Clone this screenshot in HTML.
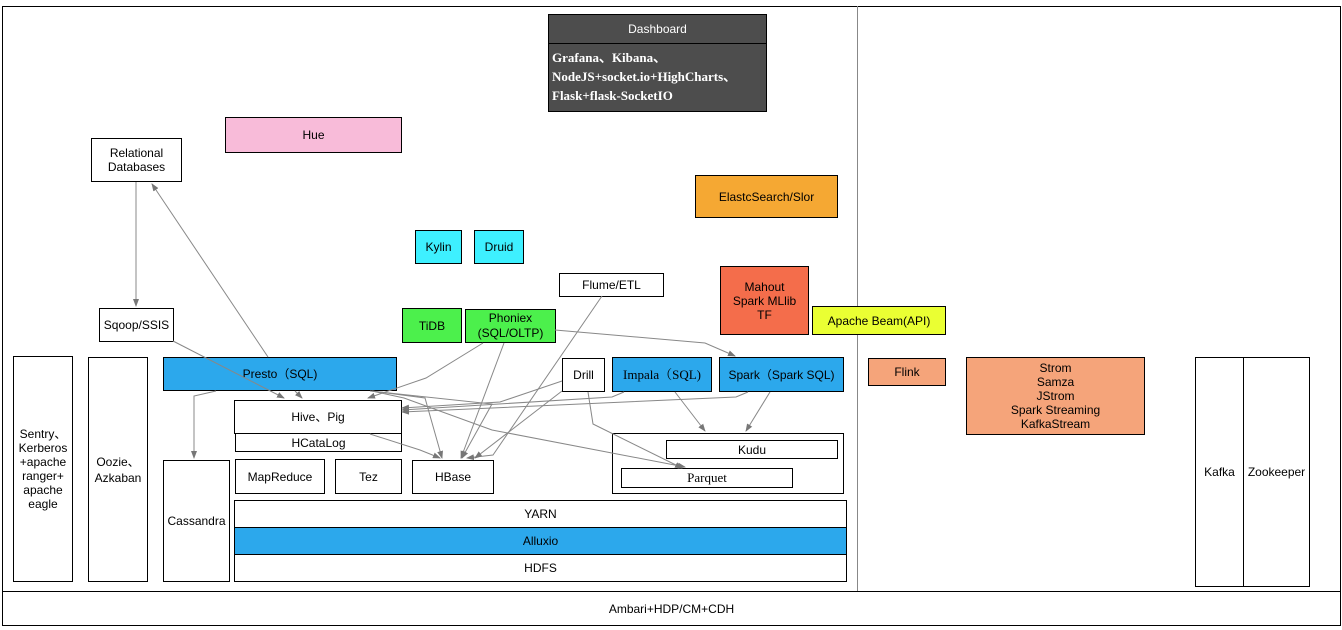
<!DOCTYPE html>
<html><head><meta charset="utf-8"><style>
body{margin:0;background:#fff;width:1342px;height:630px;overflow:hidden;position:relative;font-family:"Liberation Sans","Noto Sans CJK SC",sans-serif;font-size:12px;color:#000}
.b{position:absolute;box-sizing:border-box;border:1px solid #000;display:flex;align-items:center;justify-content:center;text-align:center;line-height:14px;background:#fff}
.s{font-family:"Liberation Serif","Noto Serif CJK SC",serif;font-size:13px}
svg{position:absolute;left:0;top:0}
</style></head><body>
<div class="b" style="left:2px;top:6px;width:1339px;height:620px;background:none"></div>
<div style="position:absolute;left:857px;top:6px;width:1px;height:585px;background:#888"></div>
<div class="b" style="left:2px;top:591px;width:1339px;height:35px">Ambari+HDP/CM+CDH</div>

<div class="b" style="left:548px;top:14px;width:219px;height:30px;background:#4d4d4d;color:#fff">Dashboard</div>
<div class="b" style="left:548px;top:43px;width:219px;height:69px;background:#4d4d4d;color:#fff;justify-content:flex-start;align-items:flex-start;text-align:left;padding:4px 0 0 3px;font-family:'Liberation Serif',serif;font-weight:bold;font-size:13px;line-height:19px">Grafana、Kibana、<br>NodeJS+socket.io+HighCharts、<br>Flask+flask-SocketIO</div>

<div class="b" style="left:225px;top:117px;width:177px;height:36px;background:#f8bbd9">Hue</div>
<div class="b" style="left:91px;top:138px;width:91px;height:44px">Relational<br>Databases</div>
<div class="b" style="left:695px;top:175px;width:143px;height:43px;background:#f5a833">ElastcSearch/Slor</div>
<div class="b" style="left:415px;top:230px;width:47px;height:34px;background:#3ef0ff">Kylin</div>
<div class="b" style="left:474px;top:230px;width:50px;height:34px;background:#3ef0ff">Druid</div>
<div class="b" style="left:559px;top:273px;width:105px;height:24px">Flume/ETL</div>
<div class="b" style="left:720px;top:266px;width:89px;height:69px;background:#f46d4b">Mahout<br>Spark MLlib<br>TF</div>
<div class="b" style="left:812px;top:306px;width:134px;height:29px;background:#eaff33">Apache Beam(API)</div>
<div class="b" style="left:402px;top:308px;width:60px;height:35px;background:#4cf04c">TiDB</div>
<div class="b" style="left:465px;top:309px;width:91px;height:34px;background:#4cf04c;line-height:15px">Phoniex<br>(SQL/OLTP)</div>
<div class="b" style="left:99px;top:308px;width:75px;height:34px">Sqoop/SSIS</div>

<div class="b" style="left:13px;top:356px;width:60px;height:226px">Sentry、<br>Kerberos<br>+apache<br>ranger+<br>apache<br>eagle</div>
<div class="b" style="left:88px;top:357px;width:60px;height:225px;line-height:16px">Oozie、<br>Azkaban</div>
<div class="b" style="left:163px;top:357px;width:234px;height:34px;background:#2ca8ec">Presto（SQL)</div>
<div class="b" style="left:562px;top:358px;width:43px;height:34px">Drill</div>
<div class="b s" style="left:612px;top:357px;width:100px;height:35px;background:#2ca8ec">Impala（SQL)</div>
<div class="b" style="left:719px;top:357px;width:125px;height:35px;background:#2ca8ec">Spark（Spark SQL)</div>
<div class="b" style="left:868px;top:358px;width:78px;height:28px;background:#f5a47a">Flink</div>
<div class="b" style="left:966px;top:357px;width:179px;height:78px;background:#f5a47a">Strom<br>Samza<br>JStrom<br>Spark Streaming<br>KafkaStream</div>
<div class="b" style="left:1195px;top:357px;width:49px;height:230px">Kafka</div>
<div class="b" style="left:1243px;top:357px;width:67px;height:230px">Zookeeper</div>

<div class="b" style="left:234px;top:400px;width:168px;height:34px">Hive、Pig</div>
<div class="b" style="left:235px;top:433px;width:167px;height:19px">HCataLog</div>
<div class="b" style="left:163px;top:460px;width:67px;height:122px">Cassandra</div>
<div class="b" style="left:235px;top:459px;width:90px;height:35px">MapReduce</div>
<div class="b" style="left:335px;top:459px;width:67px;height:35px">Tez</div>
<div class="b" style="left:412px;top:460px;width:82px;height:34px">HBase</div>
<div class="b" style="left:612px;top:433px;width:232px;height:61px"></div>
<div class="b" style="left:666px;top:440px;width:172px;height:19px">Kudu</div>
<div class="b s" style="left:621px;top:468px;width:172px;height:20px">Parquet</div>
<div class="b" style="left:234px;top:500px;width:613px;height:28px">YARN</div>
<div class="b" style="left:234px;top:527px;width:613px;height:28px;background:#2ca8ec">Alluxio</div>
<div class="b" style="left:234px;top:554px;width:613px;height:28px">HDFS</div>

<svg width="1342" height="630">
<defs><marker id="a" markerWidth="8" markerHeight="8" refX="7" refY="4" orient="auto" markerUnits="userSpaceOnUse"><path d="M0,1 L8,4 L0,7z" fill="#777"/></marker></defs>
<g stroke="#888" fill="none" stroke-width="1" marker-end="url(#a)">
<path d="M136,182 L136,306"/>
<path d="M268,357 L152,184"/>
<path d="M173,341 L284,398"/>
<path d="M295,391 L302,398"/>
<path d="M216,391 L194,396 L194,458"/>
<path d="M370,391 L492,404 L462,458"/>
<path d="M372,391 L425,398 L442,458"/>
<path d="M372,391 L404,398 L492,430 L685,467"/>
<path d="M370,434 L420,450 L440,458"/>
<path d="M483,343 L426,378 L368,398"/>
<path d="M504,343 L461,458"/>
<path d="M555,330 L705,343 L735,356"/>
<path d="M602,296 L493,455 L467,458"/>
<path d="M562,381 L500,402 L402,408"/>
<path d="M562,391 L475,458"/>
<path d="M588,392 L593,424 L682,468"/>
<path d="M624,392 L612,397 L402,410"/>
<path d="M748,392 L736,397 L402,412"/>
<path d="M675,392 L705,431"/>
<path d="M770,392 L746,431"/>
</g>
</svg>
</body></html>
